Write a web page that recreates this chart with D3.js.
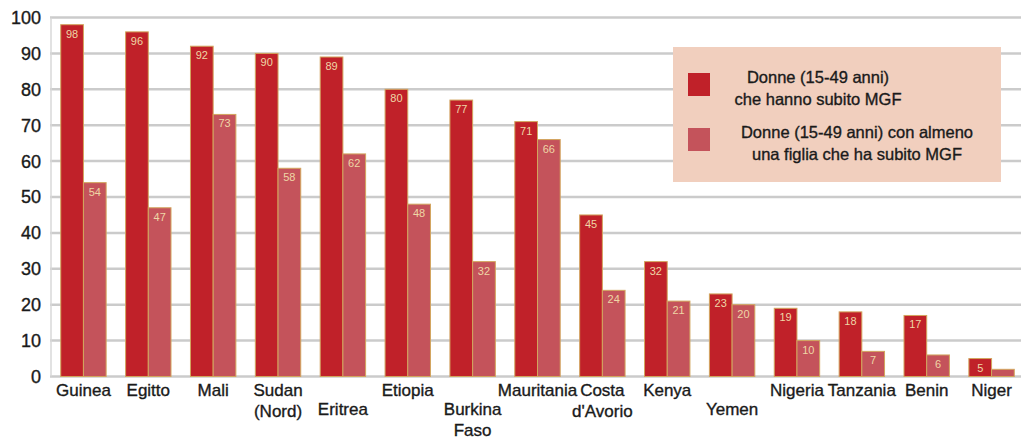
<!DOCTYPE html>
<html>
<head>
<meta charset="utf-8">
<script src="https://cdn.jsdelivr.net/npm/d3@7"></script>
<style>
  body { margin: 0; background: #fff; }
  text { font-family: "Liberation Sans", Arial, sans-serif; }
  .heavy { stroke: #1a1a1a; stroke-width: 0.35px; }
</style>
</head>
<body>
<div id="chart"></div>
<script>
  const countries = ["Guinea", "Egitto", "Mali", "Sudan\n(Nord)", "Eritrea", "Etiopia", "Burkina\nFaso",
    "Mauritania", "Costa\nd'Avorio", "Kenya", "Yemen", "Nigeria", "Tanzania", "Benin", "Niger"];
  const women = [98, 96, 92, 90, 89, 80, 77, 71, 45, 32, 23, 19, 18, 17, 5];
  const daughters = [54, 47, 73, 58, 62, 48, 32, 66, 24, 21, 20, 10, 7, 6, 2];
  const yTicks = [0, 10, 20, 30, 40, 50, 60, 70, 80, 90, 100];
  // 0 = first row, 1 = dropped to second row
  const labelRow = [0, 0, 0, 0, 1, 0, 1, 0, 0, 0, 1, 0, 0, 0, 0];
  const seriesNames = [
    ["Donne (15-49 anni)", "che hanno subito MGF"],
    ["Donne (15-49 anni) con almeno", "una figlia che ha subito MGF"]
  ];

  const width = 1021, height = 441;
  const colors = ["#c02129", "#c4535b"];

  const svg = d3.select("#chart").append("svg")
    .attr("width", width)
    .attr("height", height);

  const x = d3.scaleBand()
    .domain(countries)
    .range([51, 1024])
    .paddingInner(0.3)
    .paddingOuter(0.15);

  const xs = d3.scaleBand()
    .domain([0, 1])
    .range([0, x.bandwidth()]);

  const y = d3.scaleLinear()
    .domain([0, 100])
    .range([376.5, 17.5]);

  // grid
  svg.append("g").selectAll("line")
    .data(yTicks)
    .join("line")
    .attr("x1", 50).attr("x2", width)
    .attr("y1", d => y(d)).attr("y2", d => y(d))
    .attr("stroke", "#cbcbcb")
    .attr("stroke-width", 2.5);

  svg.append("line")
    .attr("x1", 51).attr("x2", 51)
    .attr("y1", y(100)).attr("y2", y(0))
    .attr("stroke", "#d8d8d8")
    .attr("stroke-width", 1.5);

  svg.append("g").selectAll("text")
    .data(yTicks)
    .join("text")
    .attr("class", "heavy")
    .attr("x", 41)
    .attr("y", d => y(d))
    .attr("dy", "0.36em")
    .attr("text-anchor", "end")
    .style("font-size", "18px")
    .attr("fill", "#1a1a1a")
    .text(d => d);

  const rows = countries.map((c, i) => ({ c, vals: [women[i], daughters[i]] }));

  const groups = svg.append("g").selectAll("g")
    .data(rows)
    .join("g")
    .attr("transform", d => `translate(${x(d.c)},0)`);

  const bars = groups.selectAll("g")
    .data(d => d.vals.map((v, k) => ({ k, v })))
    .join("g");

  bars.append("rect")
    .attr("x", d => xs(d.k))
    .attr("y", d => y(d.v))
    .attr("width", xs.bandwidth())
    .attr("height", d => y(0) - y(d.v))
    .attr("fill", d => colors[d.k])
    .attr("stroke", "#d2a55e")
    .attr("stroke-width", 1);

  // value labels only where the bar is tall enough to hold them
  bars.filter(d => y(0) - y(d.v) >= 14)
    .append("text")
    .attr("x", d => xs(d.k) + xs.bandwidth() / 2)
    .attr("y", d => y(d.v) + 13)
    .attr("text-anchor", "middle")
    .style("font-size", "11px")
    .attr("fill", "#efd6a6")
    .text(d => d.v);

  // category labels
  const xl = svg.append("g").selectAll("text")
    .data(countries)
    .join("text")
    .attr("class", "heavy")
    .attr("x", d => x(d) + x.bandwidth() / 2)
    .attr("y", (d, i) => 396 + labelRow[i] * 19)
    .attr("text-anchor", "middle")
    .style("font-size", "17px")
    .attr("fill", "#1a1a1a");

  xl.selectAll("tspan")
    .data(d => d.split("\n"))
    .join("tspan")
    .attr("x", function() { return this.parentNode.getAttribute("x"); })
    .attr("dy", (d, i) => i === 0 ? 0 : 21)
    .text(d => d);

  // legend
  const legend = svg.append("g");
  legend.append("rect")
    .attr("x", 673).attr("y", 47)
    .attr("width", 328).attr("height", 135)
    .attr("fill", "#f1cfbe");

  seriesNames.forEach((lines, k) => {
    const top = 73 + k * 55;
    legend.append("rect")
      .attr("x", 688).attr("y", top)
      .attr("width", 22).attr("height", 23)
      .attr("fill", colors[k]);
    lines.forEach((t, j) => {
      legend.append("text")
        .attr("class", "heavy")
        .attr("x", k === 0 ? 818 : 857)
        .attr("y", top + 10 + j * 22)
        .attr("text-anchor", "middle")
        .style("font-size", "16.5px")
        .attr("fill", "#1a1a1a")
        .text(t);
    });
  });
</script>
</body>
</html>
